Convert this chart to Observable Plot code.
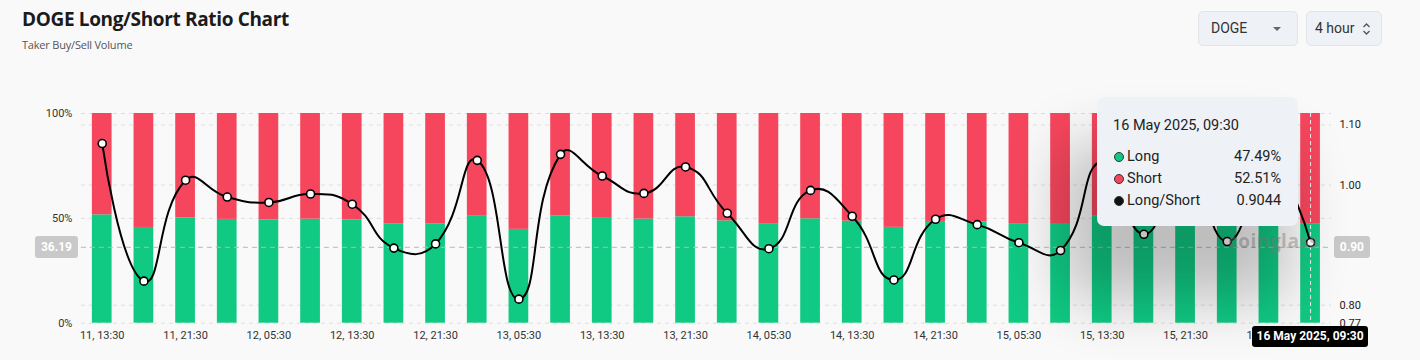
<!DOCTYPE html>
<html><head><meta charset="utf-8">
<script src="https://cdn.jsdelivr.net/npm/d3@7"></script>
<script src="https://cdn.jsdelivr.net/npm/@observablehq/plot@0.6"></script>
<style>
html,body{margin:0;padding:0;background:#f9f9f9;}
#wrap{position:relative;width:1420px;height:360px;overflow:hidden;font-family:Roboto,"Noto Sans",sans-serif;}
#header{position:relative;height:62px;}
.title{position:absolute;left:22px;top:6px;font-family:"Open Sans",sans-serif;font-weight:700;font-size:19px;line-height:26px;color:#1b1b1b;letter-spacing:-0.35px;}
.sub{position:absolute;left:22px;top:37px;font-family:"Open Sans",sans-serif;font-size:11px;line-height:16px;color:#555;letter-spacing:-0.2px;}
.sel{position:absolute;top:11px;height:33px;background:#eef1f5;border:1px solid #e1e5ea;border-radius:5px;box-sizing:content-box;}
.sel span.t{position:absolute;left:12px;top:0;line-height:33px;font-size:14px;color:#333;}
.caret{position:absolute;width:0;height:0;border-left:4px solid transparent;border-right:4px solid transparent;border-top:4px solid #666;}
#chart{position:relative;height:298px;}
.tip{position:absolute;width:201px;height:129px;background:#eef1f5;border-radius:7px;box-shadow:-22px 60px 60px 12px rgba(0,0,0,0.24);font-family:Roboto,sans-serif;color:#222;}
.tip .hd{position:absolute;left:16px;top:20px;font-size:14.5px;}
.tip .row{position:absolute;left:16px;right:17px;height:20px;font-size:14.5px;line-height:20px;}
.tip .row .dot{position:absolute;left:1px;top:5px;width:8px;height:8px;border-radius:50%;border:1.5px solid #333;}
.tip .row .lab{position:absolute;left:14px;}
.tip .row .val{position:absolute;right:0;}
.cbox{position:absolute;height:22px;line-height:22px;background:#c9c9c9;color:#fff;font-weight:700;font-size:12px;text-align:center;border-radius:3px;}
.blk{position:absolute;height:21px;line-height:21px;background:#000;color:#fff;font-weight:700;font-size:12px;text-align:center;border-radius:3px;}
.wm{position:absolute;font-family:"Open Sans",sans-serif;font-weight:700;font-size:19px;color:rgba(140,140,140,0.45);letter-spacing:0.5px;}
</style></head>
<body><div id="wrap">
<div id="header">
  <div class="title">DOGE Long/Short Ratio Chart</div>
  <div class="sub">Taker Buy/Sell Volume</div>
  <div class="sel" style="left:1198px;width:98px"><span class="t">DOGE</span><div class="caret" style="left:74px;top:15px"></div></div>
  <div class="sel" style="left:1306px;width:74px"><span class="t" style="left:8px">4 hour</span>
    <svg style="position:absolute;left:55px;top:10px" width="9" height="14"><path d="M1.5 5 L4.5 2 L7.5 5 M1.5 9 L4.5 12 L7.5 9" fill="none" stroke="#555" stroke-width="1.3"/></svg></div>
</div>
<div id="chart"></div>
</div>
<script>
const times = ["11, 13:30","11, 17:30","11, 21:30","12, 01:30","12, 05:30","12, 09:30","12, 13:30","12, 17:30","12, 21:30","13, 01:30",
  "13, 05:30","13, 09:30","13, 13:30","13, 17:30","13, 21:30","14, 01:30","14, 05:30","14, 09:30","14, 13:30","14, 17:30",
  "14, 21:30","15, 01:30","15, 05:30","15, 09:30","15, 13:30","15, 17:30","15, 21:30","16, 01:30","16, 05:30","16, 09:30"];
const xTicks = ["11, 13:30","11, 21:30","12, 05:30","12, 13:30","12, 21:30","13, 05:30","13, 13:30","13, 21:30","14, 05:30","14, 13:30",
  "14, 21:30","15, 05:30","15, 13:30","15, 21:30","16, 05:30"];
const longPct = [51.67,45.65,50.20,49.50,49.26,49.62,49.18,47.23,47.42,51.00,
  44.75,51.24,50.37,49.65,50.74,48.80,47.20,49.77,48.67,45.71,
  48.53,48.29,47.48,47.12,50.98,47.86,50.86,47.53,50.74,47.49];
const shortPct = [48.33,54.35,49.80,50.50,50.74,50.38,50.82,52.77,52.58,49.00,
  55.25,48.76,49.63,50.35,49.26,51.20,52.80,50.23,51.33,54.29,
  51.47,51.71,52.52,52.88,49.02,52.14,49.14,52.47,49.26,52.51];
const ratio = [1.069,0.840,1.008,0.980,0.971,0.985,0.968,0.895,0.902,1.041,
  0.810,1.051,1.015,0.986,1.030,0.953,0.894,0.991,0.948,0.842,
  0.943,0.934,0.904,0.891,1.040,0.918,1.035,0.906,1.030,0.9044];
const pctTicks = [0, 50, 100];
const ratioTicks = [0.77, 0.80, 1.00, 1.10];
const ratioGrid = [0.80, 1.00, 1.10];
const ratioMin = 0.77, ratioMax = 1.119;
const cursorPct = 36.19, cursorRatioLabel = "0.90";
const hoverIndex = 29;
const hoverTitle = "16 May 2025, 09:30";
const hoverRows = [["Long","47.49%","#10c983"],["Short","52.51%","#f6465d"],["Long/Short","0.9044","#111"]];
const GREEN = "#10c983", RED = "#f6465d";

const toPct = r => (r - ratioMin) / (ratioMax - ratioMin) * 100;
const fromPct = p => ratioMin + p / 100 * (ratioMax - ratioMin);

const bars = [];
times.forEach((t, i) => {
  bars.push({time: t, type: "Long", value: longPct[i]});
  bars.push({time: t, type: "Short", value: shortPct[i]});
});
const pts = times.map((t, i) => ({time: t, ratio: ratio[i]}));

// ECharts-style smoothing (smooth = 0.5)
function EchartsSmooth(context) { this._context = context; }
EchartsSmooth.prototype = {
  areaStart() {}, areaEnd() {},
  lineStart() { this._p = []; },
  point(x, y) { this._p.push([+x, +y]); },
  lineEnd() {
    const p = this._p, c = this._context, s = 0.5;
    if (!p.length) return;
    c.moveTo(p[0][0], p[0][1]);
    let cp0 = p[0];
    for (let i = 1; i < p.length; i++) {
      const [x, y] = p[i], [px, py] = p[i - 1];
      let ncp, nxt = [x, y];
      if (i === p.length - 1) { ncp = [x, y]; }
      else {
        const [nx, ny] = p[i + 1];
        const vx = nx - px, vy = ny - py;
        const l0 = Math.hypot(x - px, y - py), l1 = Math.hypot(nx - x, ny - y);
        const r = l1 / (l0 + l1);
        ncp = [x - vx * s * (1 - r), y - vy * s * (1 - r)];
        nxt = [x + vx * s * r, y + vy * s * r];
      }
      c.bezierCurveTo(cp0[0], cp0[1], ncp[0], ncp[1], x, y);
      cp0 = nxt;
    }
  }
};
const echartsCurve = ctx => new EchartsSmooth(ctx);

const SVG_TOP = 62;
const chart = Plot.plot({
  width: 1420, height: 298,
  marginTop: 51, marginBottom: 37.3, marginLeft: 80.9, marginRight: 89.1,
  style: {background: "transparent", fontFamily: "Roboto, sans-serif", fontSize: "11px", color: "#333", overflow: "visible"},
  x: {type: "band", domain: times, paddingInner: 0.527, paddingOuter: 0.2635, round: false, axis: null, label: null},
  y: {domain: [0, 100], axis: null, label: null},
  color: {domain: ["Long", "Short"], range: [GREEN, RED]},
  marks: [
    Plot.gridY(pctTicks, {stroke: "#dedede", strokeOpacity: 1, strokeDasharray: "4 4"}),
    Plot.gridY(ratioGrid.map(toPct), {stroke: "#dedede", strokeOpacity: 1, strokeDasharray: "4 4"}),
    Plot.barY(bars, {x: "time", y: "value", fill: "type"}),
    Plot.ruleY([cursorPct], {stroke: "#b8b8b8", strokeDasharray: "5 4"}),
    Plot.ruleX([times[hoverIndex]], {stroke: "#eeeeee", strokeDasharray: "4 3"}),
    Plot.line(pts, {x: "time", y: d => toPct(d.ratio), curve: echartsCurve, stroke: "#000", strokeWidth: 2}),
    Plot.dot(pts, {x: "time", y: d => toPct(d.ratio), r: 4, fill: "#fff", stroke: "#000", strokeWidth: 1.6}),
    Plot.axisX({ticks: xTicks, tickSize: 0, tickPadding: 8, fill: "#333", label: null}),
    Plot.axisY(pctTicks, {anchor: "left", tickSize: 0, tickPadding: 9, tickFormat: d => d + "%", fill: "#333", label: null}),
    Plot.axisY(ratioTicks.map(toPct), {anchor: "right", tickSize: 0, tickPadding: 8, tickFormat: v => fromPct(v).toFixed(2), fill: "#222", label: null})
  ]
});
document.getElementById("chart").appendChild(chart);

// overlays positioned through the chart's scales
const wrap = document.getElementById("wrap");
const xs = chart.scale("x"), ys = chart.scale("y");
const xHover = xs.apply(times[hoverIndex]) + xs.bandwidth / 2;
const yCursor = SVG_TOP + ys.apply(cursorPct);
const plotLeft = 80.9, plotRight = 1420 - 89.1, plotBottom = SVG_TOP + ys.apply(0);

function add(html, cls, style) {
  const d = document.createElement("div");
  d.className = cls; d.innerHTML = html;
  Object.assign(d.style, style);
  wrap.appendChild(d);
  return d;
}
add("coinglass", "wm", {left: (xHover - 82) + "px", top: (yCursor - 19) + "px"});
add("36.19", "cbox", {left: (plotLeft - 46) + "px", width: "43px", top: (yCursor - 11) + "px"});
add(cursorRatioLabel, "cbox", {left: (plotRight + 3) + "px", width: "36px", top: (yCursor - 11) + "px"});
add(hoverTitle, "blk", {left: (xHover - 58) + "px", width: "116px", top: (plotBottom + 3.5) + "px"});

const tip = add("", "tip", {left: (xHover - 213) + "px", top: "97px"});
let h = `<div class="hd">${hoverTitle}</div>`;
hoverRows.forEach(([lab, val, col], i) => {
  h += `<div class="row" style="top:${50 + i * 22}px"><div class="dot" style="background:${col}"></div><span class="lab">${lab}</span><span class="val">${val}</span></div>`;
});
tip.innerHTML = h;
</script>
</body></html>
